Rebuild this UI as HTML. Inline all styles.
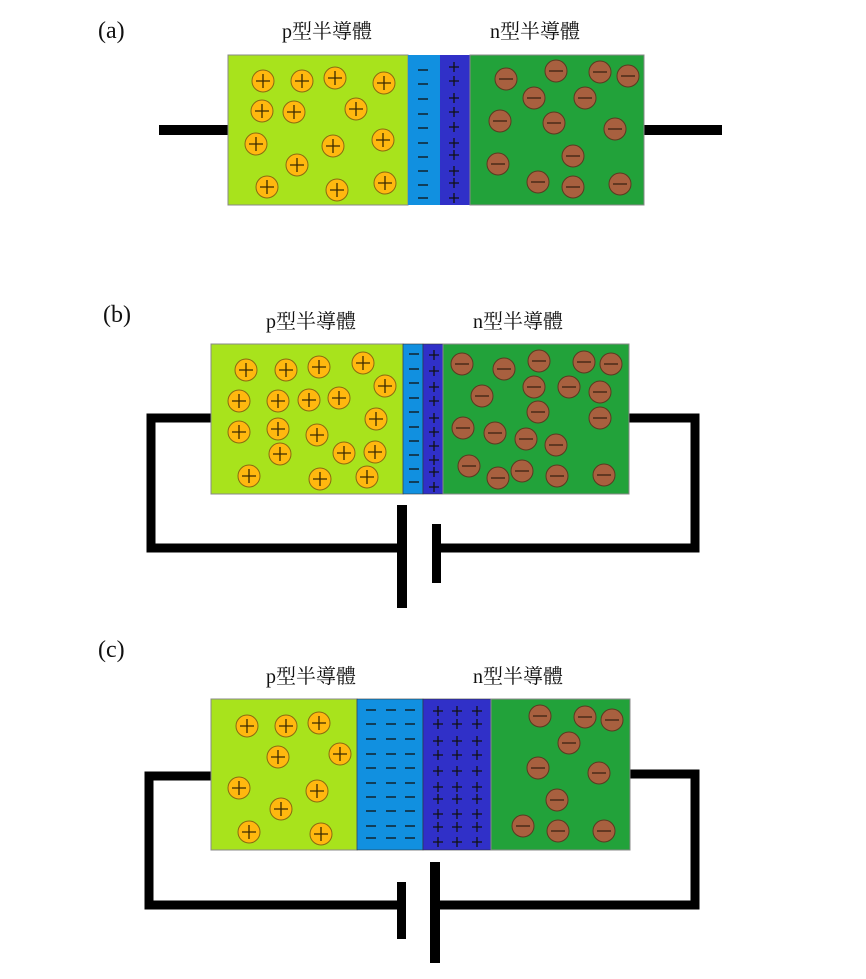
<!DOCTYPE html>
<html><head><meta charset="utf-8"><style>
html,body{margin:0;padding:0;background:#fff;}
svg{display:block}
text{font-family:"Liberation Serif","Noto Serif CJK SC","Noto Sans CJK TC",serif;fill:#111}
</style></head><body>
<svg width="866" height="979" viewBox="0 0 866 979" xmlns="http://www.w3.org/2000/svg">
<defs>
<g id="p"><circle r="11" fill="#ffb80f" stroke="#8a6a10" stroke-width="1"/><path d="M-7 0H7M0 -7V7" stroke="#3a2a00" stroke-width="1.3"/></g>
<g id="m"><circle r="11" fill="#a8603f" stroke="#5a3a20" stroke-width="1"/><path d="M-7 0H7" stroke="#4a2a18" stroke-width="1.5"/></g>
<path id="ms" d="M-5 0H5" stroke="#111" stroke-width="1.3"/>
<path id="ps" d="M-5 0H5M0 -5V5" stroke="#111" stroke-width="1.3"/>
</defs>

<!-- (a) -->
<text x="98" y="38" font-size="24">(a)</text>
<text x="282" y="38" font-size="20">p型半導體</text>
<text x="490" y="38" font-size="20">n型半導體</text>
<rect x="159" y="125" width="70" height="10" fill="#000"/>
<rect x="644" y="125" width="78" height="10" fill="#000"/>
<rect x="228" y="55" width="180" height="150" fill="#a8e31c" stroke="#888" stroke-width="1"/>
<rect x="408" y="55" width="32" height="150" fill="#1190e0"/>
<rect x="440" y="55" width="30" height="150" fill="#3030c8"/>
<rect x="470" y="55" width="174" height="150" fill="#22a23a" stroke="#888" stroke-width="1"/>
<g>
<use href="#ms" x="423" y="70"/><use href="#ms" x="423" y="84"/><use href="#ms" x="423" y="99"/><use href="#ms" x="423" y="114"/><use href="#ms" x="423" y="128"/><use href="#ms" x="423" y="143"/><use href="#ms" x="423" y="157"/><use href="#ms" x="423" y="171"/><use href="#ms" x="423" y="185"/><use href="#ms" x="423" y="198"/>
<use href="#ps" x="454" y="67"/><use href="#ps" x="454" y="81"/><use href="#ps" x="454" y="98"/><use href="#ps" x="454" y="112"/><use href="#ps" x="454" y="127"/><use href="#ps" x="454" y="143"/><use href="#ps" x="454" y="155"/><use href="#ps" x="454" y="171"/><use href="#ps" x="454" y="183"/><use href="#ps" x="454" y="198"/>
</g>
<g>
<use href="#p" x="263" y="81"/><use href="#p" x="302" y="81"/><use href="#p" x="335" y="78"/><use href="#p" x="384" y="83"/><use href="#p" x="262" y="111"/><use href="#p" x="294" y="112"/><use href="#p" x="356" y="109"/><use href="#p" x="256" y="144"/><use href="#p" x="333" y="146"/><use href="#p" x="383" y="140"/><use href="#p" x="297" y="165"/><use href="#p" x="267" y="187"/><use href="#p" x="337" y="190"/><use href="#p" x="385" y="183"/>
<use href="#m" x="506" y="79"/><use href="#m" x="556" y="71"/><use href="#m" x="600" y="72"/><use href="#m" x="628" y="76"/><use href="#m" x="534" y="98"/><use href="#m" x="585" y="98"/><use href="#m" x="500" y="121"/><use href="#m" x="554" y="123"/><use href="#m" x="615" y="129"/><use href="#m" x="573" y="156"/><use href="#m" x="498" y="164"/><use href="#m" x="538" y="182"/><use href="#m" x="573" y="187"/><use href="#m" x="620" y="184"/>
</g>

<!-- (b) -->
<text x="103" y="322" font-size="24">(b)</text>
<text x="266" y="328" font-size="20">p型半導體</text>
<text x="473" y="328" font-size="20">n型半導體</text>
<path d="M211 418H151V548H401 M437 548H695V418H629" fill="none" stroke="#000" stroke-width="9"/>
<rect x="397" y="505" width="10" height="103" fill="#000"/>
<rect x="432" y="524" width="9" height="59" fill="#000"/>
<rect x="211" y="344" width="192" height="150" fill="#a8e31c" stroke="#888" stroke-width="1"/>
<rect x="403" y="344" width="20" height="150" fill="#1190e0" stroke="#333" stroke-width="0.6"/>
<rect x="423" y="344" width="20" height="150" fill="#3030c8" stroke="#333" stroke-width="0.6"/>
<rect x="443" y="344" width="186" height="150" fill="#22a23a" stroke="#888" stroke-width="1"/>
<g>
<use href="#ms" x="414" y="354"/><use href="#ms" x="414" y="369"/><use href="#ms" x="414" y="383"/><use href="#ms" x="414" y="398"/><use href="#ms" x="414" y="412"/><use href="#ms" x="414" y="427"/><use href="#ms" x="414" y="441"/><use href="#ms" x="414" y="455"/><use href="#ms" x="414" y="469"/><use href="#ms" x="414" y="482"/>
<use href="#ps" x="434" y="355"/><use href="#ps" x="434" y="371"/><use href="#ps" x="434" y="387"/><use href="#ps" x="434" y="401"/><use href="#ps" x="434" y="418"/><use href="#ps" x="434" y="432"/><use href="#ps" x="434" y="446"/><use href="#ps" x="434" y="460"/><use href="#ps" x="434" y="472"/><use href="#ps" x="434" y="487"/>
</g>
<g>
<use href="#p" x="246" y="370"/><use href="#p" x="286" y="370"/><use href="#p" x="319" y="367"/><use href="#p" x="363" y="363"/><use href="#p" x="385" y="386"/><use href="#p" x="239" y="401"/><use href="#p" x="278" y="401"/><use href="#p" x="309" y="400"/><use href="#p" x="339" y="398"/><use href="#p" x="376" y="419"/><use href="#p" x="239" y="432"/><use href="#p" x="278" y="429"/><use href="#p" x="317" y="435"/><use href="#p" x="280" y="454"/><use href="#p" x="344" y="453"/><use href="#p" x="375" y="452"/><use href="#p" x="249" y="476"/><use href="#p" x="320" y="479"/><use href="#p" x="367" y="477"/>
<use href="#m" x="462" y="364"/><use href="#m" x="504" y="369"/><use href="#m" x="539" y="361"/><use href="#m" x="584" y="362"/><use href="#m" x="611" y="364"/><use href="#m" x="482" y="396"/><use href="#m" x="534" y="387"/><use href="#m" x="569" y="387"/><use href="#m" x="600" y="392"/><use href="#m" x="538" y="412"/><use href="#m" x="600" y="418"/><use href="#m" x="463" y="428"/><use href="#m" x="495" y="433"/><use href="#m" x="526" y="439"/><use href="#m" x="556" y="445"/><use href="#m" x="469" y="466"/><use href="#m" x="498" y="478"/><use href="#m" x="522" y="471"/><use href="#m" x="557" y="476"/><use href="#m" x="604" y="475"/>
</g>

<!-- (c) -->
<text x="98" y="657" font-size="24">(c)</text>
<text x="266" y="683" font-size="20">p型半導體</text>
<text x="473" y="683" font-size="20">n型半導體</text>
<path d="M211 776H149V905H401 M435 905H695V774H630" fill="none" stroke="#000" stroke-width="9"/>
<rect x="397" y="882" width="9" height="57" fill="#000"/>
<rect x="430" y="862" width="10" height="101" fill="#000"/>
<rect x="211" y="699" width="146" height="151" fill="#a8e31c" stroke="#888" stroke-width="1"/>
<rect x="357" y="699" width="66" height="151" fill="#1190e0" stroke="#333" stroke-width="0.6"/>
<rect x="423" y="699" width="68" height="151" fill="#3030c8" stroke="#333" stroke-width="0.6"/>
<rect x="491" y="699" width="139" height="151" fill="#22a23a" stroke="#888" stroke-width="1"/>
<g id="mcol">
<use href="#ms" x="371" y="710"/><use href="#ms" x="371" y="724"/><use href="#ms" x="371" y="739"/><use href="#ms" x="371" y="754"/><use href="#ms" x="371" y="768"/><use href="#ms" x="371" y="783"/><use href="#ms" x="371" y="797"/><use href="#ms" x="371" y="811"/><use href="#ms" x="371" y="826"/><use href="#ms" x="371" y="838"/>
</g>
<use href="#mcol" x="20"/><use href="#mcol" x="39"/>
<g id="pcol">
<use href="#ps" x="438" y="711"/><use href="#ps" x="438" y="724"/><use href="#ps" x="438" y="741"/><use href="#ps" x="438" y="755"/><use href="#ps" x="438" y="771"/><use href="#ps" x="438" y="787"/><use href="#ps" x="438" y="799"/><use href="#ps" x="438" y="814"/><use href="#ps" x="438" y="827"/><use href="#ps" x="438" y="842"/>
</g>
<use href="#pcol" x="19"/><use href="#pcol" x="39"/>
<g>
<use href="#p" x="247" y="726"/><use href="#p" x="286" y="726"/><use href="#p" x="319" y="723"/><use href="#p" x="278" y="757"/><use href="#p" x="340" y="754"/><use href="#p" x="239" y="788"/><use href="#p" x="317" y="791"/><use href="#p" x="281" y="809"/><use href="#p" x="249" y="832"/><use href="#p" x="321" y="834"/>
<use href="#m" x="540" y="716"/><use href="#m" x="585" y="717"/><use href="#m" x="612" y="720"/><use href="#m" x="569" y="743"/><use href="#m" x="538" y="768"/><use href="#m" x="599" y="773"/><use href="#m" x="557" y="800"/><use href="#m" x="523" y="826"/><use href="#m" x="558" y="831"/><use href="#m" x="604" y="831"/>
</g>
</svg>
</body></html>
